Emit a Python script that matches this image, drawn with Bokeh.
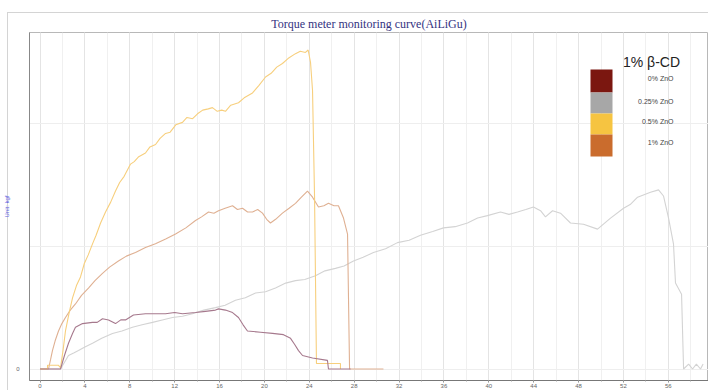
from bokeh.plotting import figure
from bokeh.models import Range1d, FixedTicker, Label
from bokeh.embed import file_html
from bokeh.resources import INLINE

# ---- torque readings (time in min, torque in kgf) ----
t_0 = [0, 1.83, 2.18, 2.54, 2.9, 3.16, 3.79, 4.68, 5.1, 5.57, 6.11, 6.73, 7.2, 7.62, 8.33,
       9.4, 10.3, 11.19, 12.0, 12.7, 13.86, 14.75, 15.64, 15.91, 16.53, 17.16, 17.69, 18.1,
       18.49, 19.65, 20.72, 21.7, 22.33, 22.7, 23.04, 23.4, 24.29, 25.62, 25.71, 27.68]
tq_0 = [0, 0, 0.11, 0.21, 0.29, 0.34, 0.37, 0.38, 0.38, 0.41, 0.40, 0.37, 0.40, 0.40, 0.44,
        0.45, 0.45, 0.45, 0.46, 0.45, 0.46, 0.47, 0.48, 0.49, 0.48, 0.46, 0.42, 0.36,
        0.31, 0.30, 0.29, 0.28, 0.25, 0.20, 0.15, 0.11, 0.09, 0.07, 0, 0]

t_025 = [0, 1.83, 2.54, 3.0, 3.43, 4.0, 4.68, 5.5, 6.46, 7.3, 8.24, 9.1, 10.03, 10.9, 11.81,
         12.7, 13.59, 14.6, 15.64, 16.5, 17.42, 18.3, 19.21, 20.1, 20.99, 21.9, 22.77, 23.6,
         24.55, 25.4, 26.33, 27.1, 27.94, 28.8, 29.72, 30.8, 31.86, 32.9, 33.91, 35.0, 35.96,
         37.0, 38.1, 39.0, 39.88, 41.04, 41.8, 42.56, 43.3, 43.98, 44.61, 45.05, 45.68, 46.39,
         47.28, 48.44, 49.69, 50.85, 52.01, 52.6, 53.26, 54.41, 55.13, 55.57, 56.02, 56.46,
         56.64, 57.18, 57.36, 57.81, 58.16, 58.5, 58.87, 59.1]
tq_025 = [0, 0, 0.11, 0.13, 0.15, 0.18, 0.21, 0.25, 0.29, 0.31, 0.34, 0.36, 0.38, 0.40, 0.42,
          0.43, 0.45, 0.48, 0.50, 0.52, 0.56, 0.58, 0.62, 0.63, 0.66, 0.70, 0.72, 0.73,
          0.76, 0.80, 0.82, 0.84, 0.88, 0.91, 0.95, 0.98, 1.03, 1.05, 1.09, 1.12, 1.15,
          1.16, 1.19, 1.23, 1.25, 1.28, 1.26, 1.28, 1.30, 1.32, 1.29, 1.24, 1.29, 1.27,
          1.19, 1.18, 1.14, 1.23, 1.31, 1.34, 1.40, 1.44, 1.46, 1.41, 1.23, 1.02,
          0.70, 0.61, 0, 0.04, 0, 0.04, 0, 0.04]

t_05 = [0, 0.67, 0.67, 1.65, 1.83, 2.05, 2.27, 2.6, 2.9, 3.25, 3.61, 3.95, 4.3, 4.68, 5.0,
        5.4, 5.84, 6.3, 6.73, 7.1, 7.5, 8.07, 8.4, 8.8, 9.4, 9.8, 10.3, 10.7, 11.19, 11.6,
        12.1, 12.7, 13.1, 13.6, 14.04, 14.5, 15.0, 15.37, 15.8, 16.2, 16.53, 17.0, 17.69,
        18.2, 18.94, 19.5, 20.1, 20.6, 21.1, 21.61, 22.1, 22.77, 23.2, 23.66, 23.9, 24.11,
        24.29, 24.47, 24.64, 26.78, 26.78]
tq_05 = [0, 0, 0.03, 0.03, 0.01, 0.15, 0.31, 0.46, 0.58, 0.68, 0.75, 0.86, 0.93, 1.02, 1.09,
         1.19, 1.28, 1.36, 1.45, 1.52, 1.57, 1.67, 1.69, 1.73, 1.76, 1.81, 1.83, 1.88, 1.92, 1.93,
         1.99, 2.01, 2.05, 2.04, 2.08, 2.11, 2.12, 2.13, 2.10, 2.11, 2.10, 2.15, 2.17,
         2.21, 2.25, 2.31, 2.38, 2.41, 2.46, 2.49, 2.53, 2.57, 2.59, 2.58, 2.60, 2.50,
         2.27, 1.40, 0.045, 0.045, 0]

t_1 = [0, 0.76, 0.95, 1.11, 1.35, 1.65, 1.95, 2.27, 2.7, 3.16, 3.7, 4.32, 4.9, 5.57, 6.2,
       6.99, 7.7, 8.51, 9.4, 10.29, 11.2, 12.08, 13.0, 13.86, 14.4, 15.02, 15.5, 15.91, 16.5,
       17.16, 17.6, 18.05, 18.5, 18.94, 19.4, 19.83, 20.2, 20.54, 21.0, 21.61, 22.2, 22.77,
       23.3, 23.84, 24.29, 24.82, 25.3, 25.71, 26.2, 26.6, 27.05, 27.41, 27.59, 30.61]
tq_1 = [0, 0, 0.08, 0.15, 0.23, 0.31, 0.37, 0.42, 0.48, 0.53, 0.60, 0.66, 0.72, 0.78, 0.83,
        0.88, 0.92, 0.95, 0.99, 1.02, 1.06, 1.10, 1.15, 1.21, 1.24, 1.28, 1.27, 1.29, 1.31,
        1.33, 1.30, 1.31, 1.28, 1.28, 1.30, 1.27, 1.22, 1.19, 1.22, 1.27, 1.31, 1.35,
        1.40, 1.45, 1.40, 1.32, 1.33, 1.35, 1.33, 1.33, 1.23, 1.10, 0, 0]

series_labels = ["0% ZnO", "0.25% ZnO", "0.5% ZnO", "1% ZnO"]
legend_title = "1% β-CD"
x_ticks = list(range(0, 57, 4))
y_ticks = [0, 1, 2]

# ---- frame geometry (canvas pixels) ----
W, H = 708, 390
FRAME_L, FRAME_R, FRAME_T, FRAME_B = 29, 708, 32, 380
X0_PX, X_SCALE = 39.5, 11.22      # pixel of t=0, pixels per minute
Y0_PX, Y_SCALE = 368.5, 122.7     # pixel of torque=0, pixels per kgf

x_start = (FRAME_L - X0_PX) / X_SCALE
x_end = (FRAME_R - X0_PX) / X_SCALE
y_start = (Y0_PX - FRAME_B) / Y_SCALE
y_end = (Y0_PX - FRAME_T) / Y_SCALE


def dx(px):
    return (px - X0_PX) / X_SCALE


def dy(py):
    return (Y0_PX - py) / Y_SCALE


# thin panel border drawn behind a transparent canvas border
panel_line = "#d4d4d4"
panel_bg = (f"linear-gradient({panel_line},{panel_line}) 7px 12px / {W}px 1px no-repeat, "
            f"linear-gradient({panel_line},{panel_line}) 7px 12px / 1px {H}px no-repeat, white")

p = figure(width=W, height=H, output_backend="svg", toolbar_location=None,
           x_range=Range1d(x_start, x_end), y_range=Range1d(y_start, y_end),
           min_border_left=FRAME_L, min_border_right=W - FRAME_R,
           min_border_top=FRAME_T, min_border_bottom=H - FRAME_B,
           styles={"background": panel_bg})

p.background_fill_color = "white"
p.border_fill_color = None
p.outline_line_color = "#b8b8b8"

p.title.text = "Torque meter monitoring curve(AiLiGu)"
p.title.align = "center"
p.title.text_font = "Liberation Serif"
p.title.text_font_size = "12px"
p.title.text_font_style = "normal"
p.title.text_color = "#33337f"
p.title.standoff = 3

# x axis
xa = p.xaxis[0]
xa.ticker = FixedTicker(ticks=x_ticks, minor_ticks=list(range(0, 60, 2)))
xa.axis_line_color = "#777777"
xa.major_tick_line_color = "#888888"
xa.minor_tick_line_color = "#aaaaaa"
xa.major_tick_out = 2
xa.major_tick_in = 0
xa.minor_tick_out = 1
xa.minor_tick_in = 0
xa.major_label_standoff = 1
xa.major_label_text_font = "Liberation Sans"
xa.major_label_text_font_size = "6px"
xa.major_label_text_color = "#666666"

# y axis
ya = p.yaxis[0]
ya.ticker = FixedTicker(ticks=y_ticks)
ya.major_label_overrides = {1: "", 2: ""}
ya.axis_line_color = "#888888"
ya.major_tick_line_color = None
ya.minor_tick_line_color = None
ya.major_label_standoff = 4
ya.major_label_text_font = "Liberation Sans"
ya.major_label_text_font_size = "6px"
ya.major_label_text_color = "#666666"
ya.axis_label = "Unit: kgf"
ya.axis_label_text_font = "Liberation Sans"
ya.axis_label_text_font_size = "6px"
ya.axis_label_text_font_style = "normal"
ya.axis_label_text_color = "#5a5ae0"
ya.axis_label_standoff = 3

p.xgrid.grid_line_color = "#e4e4e4"
p.xgrid.minor_grid_line_color = "#f0f0f0"
p.ygrid.grid_line_color = "#eeeeee"

# curves
line_colors = ["#a6798d", "#d3d3d3", "#f7cf7d", "#dfb092"]
for xs, ys, c in [(t_025, tq_025, line_colors[1]), (t_1, tq_1, line_colors[3]),
                  (t_05, tq_05, line_colors[2]), (t_0, tq_0, line_colors[0])]:
    p.line(xs, ys, line_color=c, line_width=1.1)

# legend block
swatch_colors = ["#7b1710", "#a7a7a7", "#f6c441", "#ca6c2d"]
sw_edges = [69, 92, 113, 134, 156]
label_y = [78, 101, 121, 142]
for i, (c, lab) in enumerate(zip(swatch_colors, series_labels)):
    p.quad(left=dx(590), right=dx(612), top=dy(sw_edges[i]), bottom=dy(sw_edges[i + 1]),
           fill_color=c, line_color=None)
    p.add_layout(Label(x=dx(673), y=dy(label_y[i]), text=lab, text_align="right",
                       text_baseline="middle", text_font="Liberation Sans",
                       text_font_size="7px", text_color="#444444"))
p.add_layout(Label(x=dx(651), y=dy(61), text=legend_title, text_align="center",
                   text_baseline="middle", text_font="Liberation Sans",
                   text_font_size="14px", text_color="#222222"))

open("out.html", "w").write(file_html(p, INLINE))
